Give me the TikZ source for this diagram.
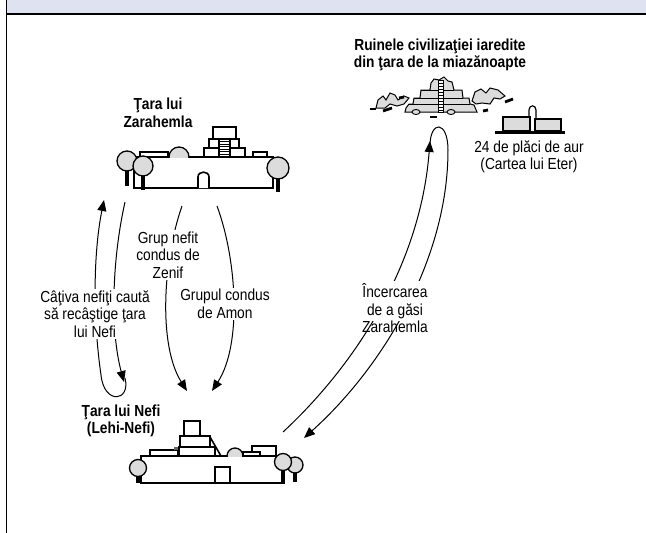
\documentclass[tikz,border=0pt]{standalone}
\usepackage{fontspec}
\setmainfont[FakeStretch=0.86]{Liberation Sans}
\usetikzlibrary{arrows.meta}
\definecolor{hdr}{HTML}{DFE2F1}
\definecolor{stone}{HTML}{DCDCDC}
\newcommand\mytree[4]{%
  \draw[trunk] (#1,#2) -- (#1,#4);
  \draw[gry] (#1,#2) circle[radius=#3];}
\newcommand\mydome[3]{%
  \begin{scope}
  \clip (#1-#3-2,#2-#3-2) rectangle (#1+#3+2,#2);
  \draw[gry] (#1,#2) circle[radius=#3];
  \end{scope}}
\begin{document}
\begin{tikzpicture}[x=1pt,y=-1pt,
  bld/.style={draw=black, line width=1.6pt, fill=white},
  gry/.style={draw=black, line width=1.3pt, fill=stone},
  trunk/.style={line width=3.2pt},
  bar/.style={line width=2.8pt},
  conn/.style={line width=1pt, -{Triangle[length=11pt,width=9pt]}},
  lbl/.style={align=center, font=\fontsize{16}{17.5}\selectfont, inner sep=1.5pt},
  blbl/.style={align=center, font=\fontsize{16}{17.5}\selectfont\bfseries, inner sep=1pt},
]
\useasboundingbox (0,0) rectangle (646,533);
% frame
\fill[hdr] (7,0) rectangle (646,14);
\draw[line width=1.5pt] (7,14) -- (646,14);
\draw[line width=1.8pt] (6.5,0) -- (6.5,533);

% ---------------- Zarahemla
\draw[bld] (134,157) rectangle (273,188);
\draw[bld] (140,152) rectangle (168,157);
\mydome{179}{157}{10}
\draw[bld] (204,148) rectangle (245,157);
\draw[bld] (209,139) rectangle (239,148);
\draw[bld] (213,127) rectangle (236,139);
\draw[bld] (219,139) rectangle (230,157);
\foreach \yy in {141.5,144,...,156} \draw[line width=0.8pt] (219,\yy) -- (230,\yy);
\draw[bld] (253,152) rectangle (267,157);
\draw[bld] (198,188) -- (198,177) .. controls (198,170.5) and (209,170.5) .. (209,177) -- (209,188);
\mytree{127}{161}{10}{186}
\mytree{143}{166}{10}{190}
\mytree{278}{168}{11}{192}
\node[blbl] (tz) at (158,113) {Ţara lui\\Zarahemla};

% ---------------- Nefi
\draw[bld] (141,456) rectangle (283,483);
\draw[bld] (215,467) rectangle (230,483);
\draw[bld] (150,450) rectangle (178,456);
\fill[black!60] (174,447) rectangle (180,450);
\draw[bld] (179,447) rectangle (215,456);
\draw[bld] (180,436) rectangle (210,447);
\draw[bld] (184,421) rectangle (200,436);
\draw[line width=1.6pt] (210,437) -- (221,456);
\mydome{235}{456}{8}
\draw[bld] (252,446) rectangle (276,456);
\draw[bld] (243,452) rectangle (260,456);
\mytree{138}{468}{8.5}{483}
\mytree{295}{465}{8}{482}
\mytree{283}{462}{8.5}{484}
\node[blbl] (tn) at (121,421) {Ţara lui Nefi\\(Lehi-Nefi)};

% ---------------- Ruins
\draw[gry, line width=1pt] (405,112) -- (406,108) -- (409,104) -- (413,104) -- (414,98) -- (420,98) -- (421,90) -- (430,90)
  -- (431,83) -- (434,79) -- (439,80) -- (444,77) -- (448,81) -- (452,82) -- (454,90) -- (462,90) -- (463,98)
  -- (469,98) -- (470,104) -- (474,105) -- (477,112) -- cycle;
\draw[line width=0.8pt] (409,104) -- (470,104) (414,98) -- (463,98) (421,90) -- (454,90);
\draw[bld, line width=0.9pt] (438,80) rectangle (443,112);
\foreach \yy in {83,86,...,110} \draw[line width=0.7pt] (438,\yy) -- (443,\yy);
\draw[gry, line width=0.9pt] (416,112) ellipse[x radius=4, y radius=2.5];
\draw[gry, line width=0.9pt] (451,112) ellipse[x radius=4, y radius=2.5];
\draw[gry, line width=1pt] (376,108) -- (378,100) -- (383,96) -- (386,100) -- (390,93) -- (395,95) -- (398,100)
  -- (404,96) -- (409,98) -- (404,104) -- (397,106) -- (390,104) -- (385,108) -- cycle;
\draw[gry, line width=1pt] (472,101) -- (475,92) -- (481,89) -- (486,93) -- (490,88) -- (498,90) -- (505,96)
  -- (500,99) -- (494,98) -- (490,104) -- (482,103) -- (476,104) -- cycle;
\draw[bar] (370,109) -- (376,109);
\draw[bar] (383,111) -- (392,108);
\draw[bar] (399,98) -- (404,97);
\draw[bar] (430,117) -- (437,117);
\draw[bar] (483,111) -- (488,110);
\draw[bar] (505,102) -- (513,99);
\node[blbl] (tr) at (440,55) {Ruinele civilizaţiei iaredite\\din ţara de la miazănoapte};

% plates
\draw[bld, line width=1.2pt] (529,118) -- (529,110) .. controls (529,104.5) and (536,104.5) .. (536,110) -- (536,120);
\draw[gry] (503,117) rectangle (530,131);
\draw[gry] (535,119) rectangle (561,131);
\draw[line width=3pt] (495,132) -- (565,132);
\node[lbl] (tp) at (529,157) {24 de plăci de aur\\(Cartea lui Eter)};

% ---------------- Connectors
\coordinate (a1) at (125,202);
\coordinate (a2) at (124,382);
\coordinate (a3) at (125,378);
\coordinate (a4) at (104,200);
\draw[conn] (a1) .. controls (112,260) and (110,330) .. (a2);
\draw[conn] (a3) .. controls (131,402) and (104,405) .. (101,375) .. controls (93,320) and (93,255) .. (a4);

\coordinate (b1) at (182,206);
\coordinate (b2) at (187,391);
\draw[conn] (b1) .. controls (163,260) and (158,345) .. (b2);
\coordinate (c1) at (217,206);
\coordinate (c2) at (212,391);
\draw[conn] (c1) .. controls (237,260) and (242,345) .. (c2);

\coordinate (d1) at (283,432);
\coordinate (d2) at (430,141);
\coordinate (d3) at (430,146);
\coordinate (d4) at (304,438);
\draw[conn] (d1) .. controls (350,370) and (420,270) .. (d2);
\draw[conn] (d3) .. controls (430,120) and (448,120) .. (448,150) .. controls (448,260) and (382,368) .. (d4);

% labels on connectors
\node[lbl, fill=white] (l1) at (95,314) {Câţiva nefiţi caută\\să recâştige ţara\\lui Nefi};
\node[lbl, fill=white] (l2) at (168,255) {Grup nefit\\condus de\\Zenif};
\node[lbl, fill=white] (l3) at (225,304) {Grupul condus\\de Amon};
\node[lbl, fill=white, inner sep=3pt] (l4) at (395,301) {Încercarea\\de a găsi};
\node[lbl] (l5) at (395,327) {Zarahemla};
\end{tikzpicture}
\end{document}
